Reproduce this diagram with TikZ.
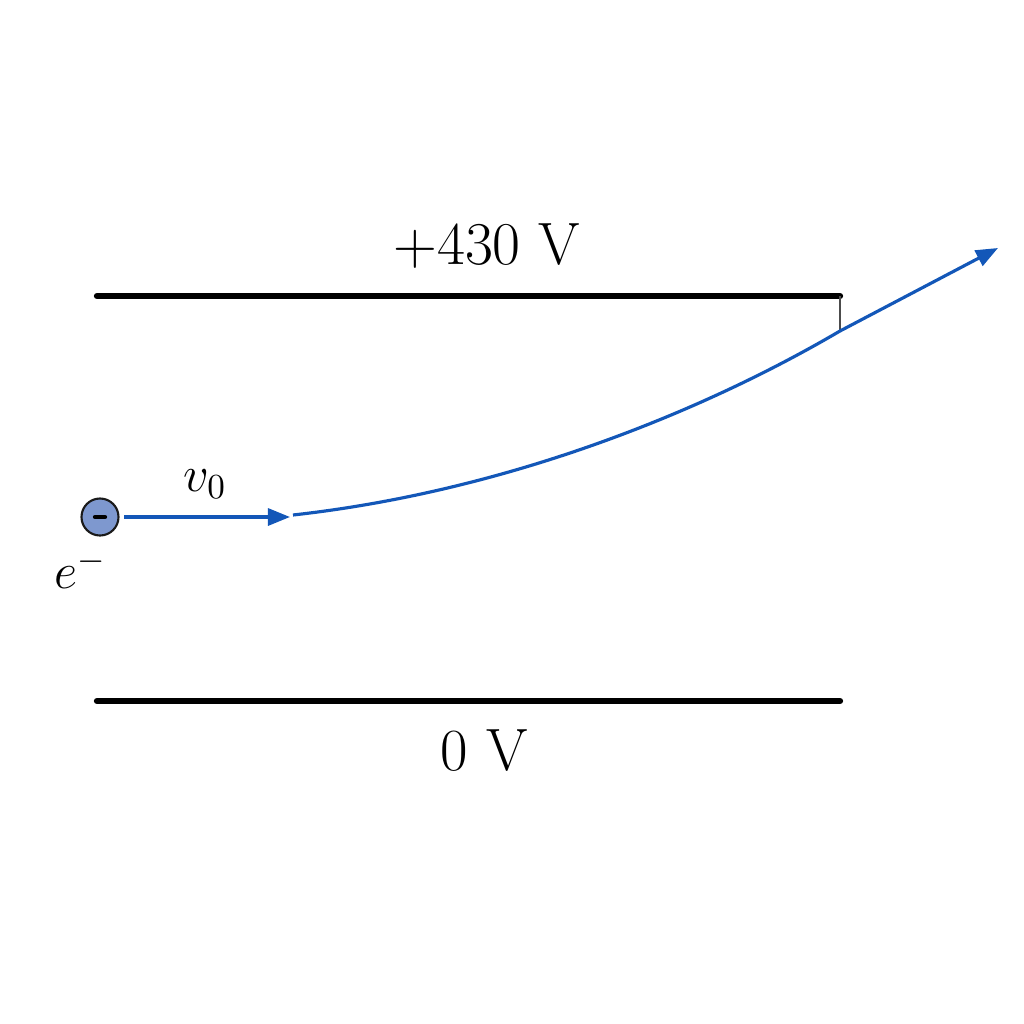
\documentclass[tikz,border=0pt]{standalone}
\usepackage{amsmath,amssymb}
\usepackage{xcolor}
\usetikzlibrary{calc,arrows.meta}
\definecolor{ink}{HTML}{000000}
\definecolor{beam}{HTML}{1357B8}
\definecolor{charge}{HTML}{7E98CF}
\definecolor{rim}{HTML}{1A1A1A}
\tikzset{
  plate/.style={draw=ink, line width=1.8pt, line cap=round},
  tick/.style={draw=ink!70, line width=0.3pt},
  path/.style={draw=beam, line width=0.9pt, -{Triangle[length=2.2mm,width=1.7mm]}},
  elec/.style={circle, draw=rim, fill=charge, line width=0.6pt, minimum size=3.7mm, inner sep=0pt},
  lab/.style={text=ink, font=\fontsize{17}{20}\selectfont},
  labs/.style={text=ink, font=\fontsize{14}{16}\selectfont}
}
\begin{document}
\begin{tikzpicture}[x=0.01cm,y=-0.01cm]
  \useasboundingbox (0,0) rectangle (1024,1024);
  \coordinate (T1) at (97,296);
  \coordinate (T2) at (840,296);
  \coordinate (B1) at (97,701);
  \coordinate (B2) at (840,701);
  \draw[plate] (T1)--(T2);
  \draw[plate] (B1)--(B2);
  \node[lab] (top) at (487,246) {$+430$ V};
  \node[lab] (bot) at (484,751) {0 V};
  % electron and entry velocity
  \node[elec] (e) at (100,517) {};
  \draw[line width=1.2pt, line cap=round] ($(e.center)+(-5,0)$)--($(e.center)+(5,0)$);
  \node[labs] (elab) at (81,569) {$e^{-}$};
  \coordinate (V0) at (124,517);
  \coordinate (V) at (290,517);
  \draw[path] (V0)--(V);
  \node[labs] (vlab) at (205,484) {$v_0$};
  % deflected path
  \coordinate (S) at (293,515);
  \coordinate (X) at (840,331);
  \coordinate (F) at (998,248);
  \draw[tick] (T2)--(X);
  \draw[path] (S) .. controls (500,492) and (695,416) .. (X) -- (F);
\end{tikzpicture}
\end{document}
